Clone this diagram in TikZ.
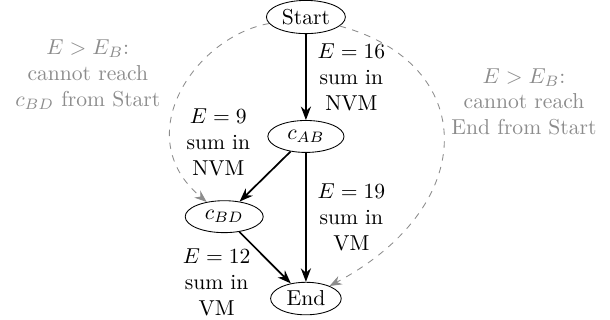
\documentclass[tikz,border=0pt]{standalone}
\usepackage{amsmath}
\usepackage{xcolor}
\usepackage{tikz}
\usetikzlibrary{arrows.meta,positioning,shapes.geometric}

\begin{document}
\begin{tikzpicture}[
      node distance=1.4cm,
      state/.style={ellipse, draw=black, inner sep=1.8pt, minimum width=1.15cm,
                    minimum height=5.2mm},
      lbl/.style={align=center, inner sep=2pt},
      note/.style={align=center, text=black!45},
      arr/.style={-{Stealth[length=2.2mm]}, thick},
      skip/.style={-{Stealth[length=2mm]}, dashed, black!45, thin}
    ]
    \useasboundingbox (-4.98,0.277) rectangle (4.95,-4.93);
    \node[state] (start) at (0,0) {Start};
    \node[state, minimum width=1.24cm, below=of start] (cab) {$c_{AB}$};
    \node[state, below=2.1cm of cab] (end) {End};
    \node[state, minimum width=1.27cm] (cbd) at (-1.33,-3.25) {$c_{BD}$};
    \draw[arr] (start) -- node[lbl, right=3pt] {$E = 16$\\sum in\\NVM} (cab);
    \draw[arr] (cab) -- node[lbl, right=3pt] {$E = 19$\\sum in\\VM} (end);
    \draw[arr] (cab) -- node[lbl, above left=-2pt and 4.5pt, pos=0.5] {$E = 9$\\sum in\\NVM} (cbd);
    \draw[arr] (cbd) -- node[lbl, below left=-4pt and 2pt, pos=0.4] {$E = 12$\\sum in\\VM} (end);
    % transitions that are not possible
    \draw[skip] (start) to[out=190, in=140, out looseness=1.0, in looseness=1.4] (cbd);
    \draw[skip] (start) to[out=-15, in=28, out looseness=1.4, in looseness=1.7] (end);
    \node[note] (nleft) at (-3.55,-0.94) {$E > E_B$:\\cannot reach\\$c_{BD}$ from Start};
    \node[note] (nright) at (3.55,-1.38) {$E > E_B$:\\cannot reach\\End from Start};
  \end{tikzpicture}
\end{document}
